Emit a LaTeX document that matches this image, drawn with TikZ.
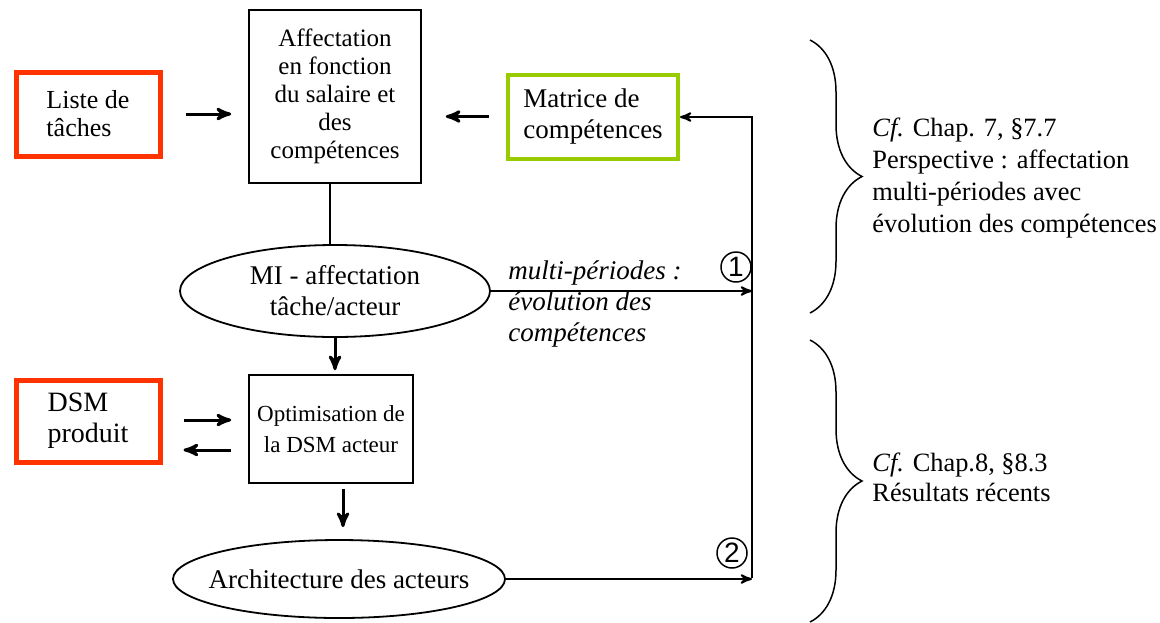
\documentclass[tikz,border=0pt]{standalone}
\usepackage{fontspec}
\setmainfont{Liberation Serif}
\setsansfont{Liberation Sans}
\usepackage{tikz}
\usetikzlibrary{arrows,shapes.geometric,decorations.pathreplacing}
\definecolor{rouge}{RGB}{255,51,0}
\definecolor{vert}{RGB}{153,204,0}
\tikzset{
  txt/.style = {font=\fontsize{13.5}{15.5}\selectfont, align=center, inner sep=0pt},
  boite/.style = {txt, rectangle, draw=black, line width=0.75pt},% boite de traitement
  donnee/.style = {txt, rectangle, line width=2.5pt, draw=rouge, align=left},% donnee d'entree
  ellip/.style = {txt, ellipse, draw=black, line width=0.9pt},% modele intermediaire
  fl/.style = {->, >=stealth', line width=1.5pt},% petite fleche
  lien/.style = {->, >=stealth', line width=1pt},
  num/.style = {circle, draw=black, line width=0.75pt, inner sep=0pt,
    minimum size=15pt, font=\sffamily\fontsize{14}{14}\selectfont},
  accol/.style = {decorate, decoration={brace, amplitude=26pt}, line width=0.75pt}
}

\begin{document}
\begin{tikzpicture}[x=0.5pt,y=-0.5pt]
    \useasboundingbox (0,0) rectangle (1160,622);
    % entrees
    \node [donnee, minimum width=72pt, minimum height=42pt,
      font=\fontsize{13}{14}\selectfont] (liste) at (88,114) {Liste de\\ tâches};
    \node [donnee, minimum width=72pt, minimum height=41pt,
      font=\fontsize{14}{15.5}\selectfont] (dsm) at (88,421) {DSM\\ produit};
    \node [donnee, draw=vert, line width=2pt, minimum width=85pt, minimum height=42pt]
      (mat) at (593,116.5) {Matrice de\\ compétences};
    % traitements
    \node [boite, minimum width=86pt, minimum height=86.5pt,
      font=\fontsize{12.5}{14}\selectfont] (aff) at (335,96.5)
      {Affectation\\ en fonction\\ du salaire et\\ des\\ compétences};
    \node [boite, minimum width=82pt, minimum height=54pt,
      font=\fontsize{11.5}{15.5}\selectfont] (opt) at (331,429)
      {Optimisation de\\ la DSM acteur};
    \node [ellip, minimum width=155pt, minimum height=46pt] (mi) at (335,291)
      {MI - affectation\\ tâche/acteur};
    \node [ellip, inner xsep=-9pt, inner ysep=7pt, minimum width=166pt, minimum height=39pt]
      (arch) at (339,579) {Architecture des acteurs};
    % liaisons
    \draw [fl, shorten <=11.5pt, shorten >=8.5pt] (liste.east) -- (aff.west |- liste.east);
    \draw [fl, shorten <=8.5pt, shorten >=12pt] (mat.west) -- (aff.east |- mat.west);
    \draw [fl, shorten <=10.5pt, shorten >=8.5pt] (dsm.east |- 0,420) -- (opt.west |- 0,420);
    \draw [fl, shorten <=8.5pt, shorten >=10.5pt] (opt.west |- 0,450) -- (dsm.east |- 0,450);
    \draw [line width=1pt] (aff.south -| 330,0) -- (mi.north -| 330,0);
    \draw [fl] (mi.south) -- ([yshift=2pt]opt.north -| mi.south);
    \draw [fl, shorten <=2.5pt, shorten >=6pt] (opt.south -| 343,0) -- (arch.north -| 343,0);
    % retour vers la matrice
    \coordinate (c1) at (752,289);
    \coordinate (c2) at (752,578);
    \coordinate (haut) at (752,117);
    \draw [lien] (mi.east) -- (mi.east -| c1);
    \draw [lien] (arch.east) -- (arch.east -| c2);
    \draw [lien] (c2) -- (haut) -- (mat.east |- haut);
    \node [num] (n1) at (736,267) {1};
    \node [num] (n2) at (732,553) {2};
    \node [txt, align=left, anchor=west, font=\itshape\fontsize{13.5}{15.5}\selectfont]
      (evol) at (508,304) {multi-périodes :\\ évolution des\\ compétences};
    % renvois
    \draw [accol] (810,40) -- (810,313);
    \draw [accol] (810,340) -- (810,622);
    \node [txt, align=left, anchor=west, font=\fontsize{13.2}{16}\selectfont] (ch7) at (872,178)
      {\textit{Cf.} Chap. 7, §7.7\\ Perspective : affectation\\ multi-périodes avec\\ évolution des compétences};
    \node [txt, align=left, anchor=west, font=\fontsize{13.2}{15}\selectfont] (ch8) at (872,477)
      {\textit{Cf.} Chap.8, §8.3\\ Résultats récents};
\end{tikzpicture}
\end{document}
